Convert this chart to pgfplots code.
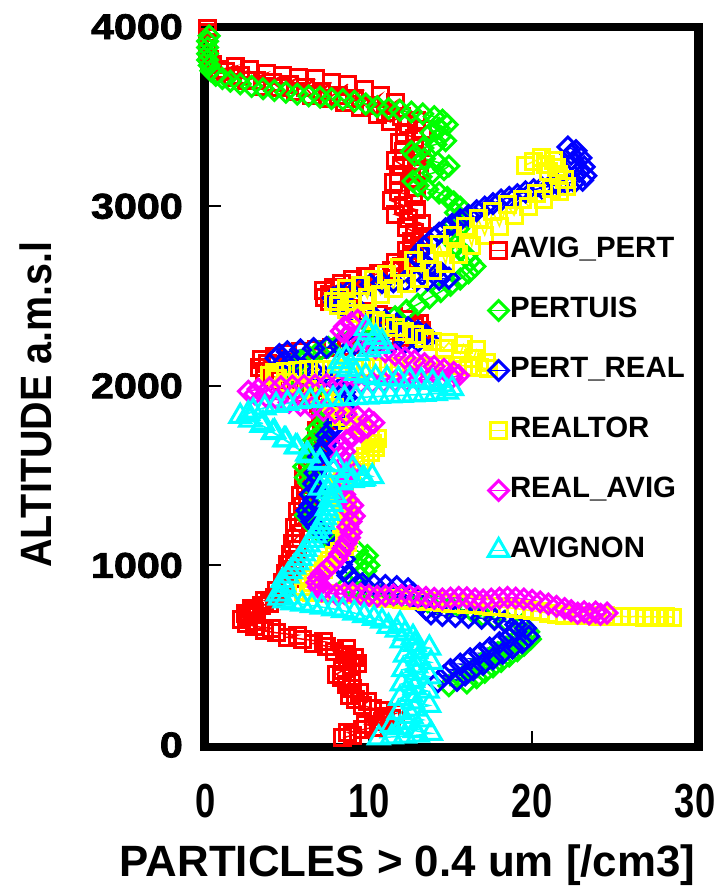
\documentclass[border=0pt]{standalone}
\usepackage{fontspec}
\setmainfont{Liberation Sans}
\newfontface\tickheavy{Liberation Sans Bold}[FakeBold=2]
\usepackage{graphicx}
\usepackage{pgfplots}
\pgfplotsset{compat=1.18}

\definecolor{cAP}{RGB}{255,0,0}
\definecolor{cPE}{RGB}{0,255,0}
\definecolor{cPR}{RGB}{0,0,255}
\definecolor{cRT}{RGB}{255,255,0}
\definecolor{cRA}{RGB}{255,0,255}
\definecolor{cAV}{RGB}{0,255,255}

\pgfplotsset{
  sqr/.style={color=#1, line width=1.5bp, mark=square, mark size=8bp,
    mark options={solid, line width=3bp, fill=none}},
  dia/.style={color=#1, line width=1.5bp, mark=square, mark size=7bp,
    mark options={solid, rotate=45, line width=3bp, fill=none}},
  tri/.style={color=#1, line width=1.5bp, mark=triangle, mark size=12bp,
    mark options={solid, line width=3bp, fill=none}},
}
\newcommand{\ytl}[1]{\scalebox{1.15}[1]{\tickheavy #1}}
\newcommand{\xtl}[1]{\scalebox{0.76}[1]{#1}}

\begin{document}
\begin{tikzpicture}[x=1bp,y=1bp]
\useasboundingbox (0,0) rectangle (725,894);
\begin{axis}[
  at={(204.5bp,147.2bp)}, anchor=south west,
  scale only axis, width=494bp, height=720bp,
  xmin=-0.09, xmax=30.21, ymin=-10, ymax=4000,
  clip=false,
  axis line style={line width=8.5bp, black},
  tick align=inside, xtick pos=left, ytick pos=left,
  major tick length=16bp,
  every tick/.style={black, line width=2bp},
  xtick={0,10,20,30},
  xticklabels={\xtl{0},\xtl{10},\xtl{20},\xtl{30}},
  ytick={0,1000,2000,3000,4000},
  yticklabels={\ytl{0},\ytl{1000},\ytl{2000},\ytl{3000},\ytl{4000}},
  xticklabel style={font=\fontsize{48}{48}\selectfont\bfseries, inner sep=0pt, anchor=north, yshift=-37bp},
  yticklabel style={font=\fontsize{36}{36}\selectfont, inner sep=0pt, anchor=east, xshift=-21.5bp},
  xlabel={PARTICLES > 0.4 um [/cm3]},
  xlabel style={font=\fontsize{44}{44}\selectfont\bfseries, at={(axis description cs:0.411,-0.164)}, anchor=center, inner sep=0pt},
  ylabel={\scalebox{0.9}[1]{ALTITUDE a.m.s.l}},
  ylabel style={font=\fontsize{44}{44}\selectfont\bfseries, at={(axis description cs:-0.341,0.475)}, anchor=center, inner sep=0pt},
  legend style={draw=none, fill=none, at={(axis cs:17.3,2836)}, anchor=north west,
    font=\fontsize{29.5}{29.5}\selectfont\bfseries, row sep=31bp, inner sep=0pt,
    nodes={inner sep=1bp, text height=21bp, text depth=6bp}},
  legend cell align=left,
  legend image code/.code={\draw[mark repeat=2, mark phase=2, #1] plot coordinates {(-8bp,0bp) (0bp,0bp) (8bp,0bp)};},
]

% AVIG_PERT
\addplot[sqr=cAP] table {
x y
8.4 40
9.0 55
8.7 70
9.6 85
10.3 100
9.8 115
10.8 130
11.4 145
11.0 160
11.6 175
10.9 190
10.2 205
9.6 220
9.9 240
9.2 255
8.8 275
9.4 295
9.0 315
8.6 335
8.9 355
8.3 375
8.0 395
8.4 415
8.9 435
9.3 455
8.7 470
9.1 490
8.5 505
7.9 520
8.6 535
7.4 550
6.6 565
7.2 575
5.9 590
5.0 600
5.6 612
4.3 625
3.6 635
4.0 650
3.0 660
2.5 675
3.1 688
2.2 700
2.6 715
2.4 730
3.0 745
2.8 760
3.4 775
3.9 790
3.6 805
4.2 820
4.6 840
4.3 860
4.9 880
4.7 905
5.1 930
4.9 955
5.3 980
5.0 1005
5.4 1030
5.2 1060
5.6 1090
5.3 1120
5.5 1150
5.8 1180
5.4 1210
5.7 1240
6.0 1270
5.6 1300
5.9 1330
6.2 1360
5.8 1390
6.1 1420
6.4 1450
6.0 1480
6.3 1510
6.7 1540
6.2 1570
6.5 1600
6.9 1630
6.6 1660
6.9 1690
7.2 1720
6.8 1750
7.1 1780
7.4 1810
7.0 1840
7.3 1870
6.9 1900
6.4 1930
6.0 1955
5.5 1980
5.0 2005
4.6 2030
4.1 2055
3.6 2080
3.3 2105
3.8 2125
3.4 2145
4.2 2165
5.0 2180
5.8 2192
6.8 2202
7.7 2212
8.6 2222
9.5 2232
10.4 2245
11.2 2258
12.0 2272
12.7 2290
13.2 2310
12.8 2330
13.1 2350
12.3 2370
11.5 2385
10.6 2400
9.7 2415
8.9 2430
8.1 2448
7.6 2468
7.3 2490
7.6 2510
7.2 2530
7.8 2550
8.3 2570
9.0 2590
9.8 2608
10.6 2625
11.4 2645
12.0 2665
11.6 2685
12.4 2705
12.8 2730
12.3 2755
13.1 2780
12.6 2805
13.3 2830
12.8 2855
12.3 2880
13.2 2905
12.4 2930
11.6 2955
12.9 2980
12.1 3005
11.4 3030
12.7 3055
11.8 3080
12.9 3105
11.5 3130
12.6 3155
11.8 3180
13.1 3205
12.0 3230
11.6 3255
12.9 3280
12.1 3305
13.2 3330
11.9 3355
12.8 3380
12.2 3405
13.3 3430
12.4 3455
12.9 3480
12.0 3500
11.3 3470
11.0 3520
11.6 3580
10.5 3510
10.1 3560
10.7 3620
9.5 3550
9.1 3600
9.7 3650
8.5 3580
8.1 3620
8.7 3680
7.5 3600
7.1 3640
7.7 3690
6.5 3620
6.1 3660
6.7 3710
5.5 3640
5.1 3680
5.7 3720
4.5 3660
4.1 3690
4.7 3730
3.5 3670
3.1 3700
3.7 3740
2.5 3700
2.1 3730
2.7 3760
1.6 3720
1.2 3750
1.8 3780
0.8 3760
0.4 3790
0.2 3820
0.1 3850
0.1 3880
0.1 3910
0.1 3940
0.1 3970
0.1 3990
};
\addlegendentry{AVIG\_PERT}

% PERTUIS
\addplot[dia=cPE] table {
x y
14.9 330
16.0 345
15.4 365
16.6 375
15.9 395
17.1 405
16.4 425
17.6 435
16.9 455
18.1 465
17.4 485
18.6 495
17.9 515
19.1 525
18.4 545
19.5 555
18.9 575
19.9 590
19.3 610
19.8 630
19.2 650
19.4 670
18.4 690
17.7 705
17.0 720
16.4 738
15.7 755
15.0 770
14.3 785
13.6 797
12.9 808
12.2 818
11.5 826
10.8 834
10.1 842
9.5 852
9.0 870
8.7 895
9.0 920
9.4 945
9.8 970
10.0 1000
9.7 1030
9.9 1055
9.3 1080
8.6 1105
7.9 1130
7.3 1160
6.9 1190
6.6 1220
6.4 1250
6.1 1280
6.3 1310
6.5 1340
6.8 1370
6.5 1400
6.7 1430
6.3 1460
6.1 1490
6.4 1520
6.0 1550
6.3 1580
6.6 1610
6.4 1640
6.8 1670
6.6 1700
7.0 1730
6.8 1760
7.2 1790
7.5 1820
7.2 1850
7.4 1880
7.0 1910
6.7 1940
6.3 1970
6.0 2000
5.7 2030
5.4 2060
5.6 2090
5.3 2115
5.8 2140
6.3 2165
6.9 2190
7.5 2215
8.2 2240
8.9 2265
9.6 2290
10.2 2320
10.9 2350
11.6 2385
12.3 2420
13.0 2455
13.7 2490
14.4 2525
15.0 2560
15.6 2595
16.1 2630
16.5 2665
16.2 2695
16.0 2725
15.6 2755
15.3 2785
15.0 2815
15.2 2845
15.5 2875
15.2 2905
15.6 2935
15.3 2965
15.6 2995
15.2 3025
14.8 3050
14.3 3075
13.6 3095
13.0 3115
12.7 3140
13.2 3165
13.9 3185
14.6 3205
14.9 3225
14.2 3245
13.4 3265
12.8 3285
12.6 3305
13.3 3325
14.1 3345
14.7 3365
14.4 3390
13.8 3410
14.3 3435
14.8 3455
14.5 3480
14.0 3500
13.3 3515
12.6 3525
11.9 3535
11.2 3545
10.5 3555
9.8 3570
9.1 3585
8.4 3595
7.7 3600
7.0 3608
6.3 3615
5.6 3625
4.9 3635
4.2 3645
3.5 3655
2.8 3668
2.1 3682
1.5 3697
1.0 3712
0.6 3730
0.3 3755
0.2 3785
0.1 3815
0.1 3850
0.1 3885
0.1 3920
0.2 3950
};
\addlegendentry{PERTUIS}

% PERT_REAL
\addplot[dia=cPR] table {
x y
14.2 350
15.4 360
14.6 385
15.9 390
15.0 420
16.4 420
15.6 450
17.0 450
16.2 480
17.6 480
16.8 510
18.2 510
17.4 540
18.8 540
18.0 570
19.4 570
18.6 600
19.8 605
19.0 630
19.6 650
19.0 670
18.3 688
17.7 700
16.9 706
16.1 711
15.3 716
14.5 722
13.8 730
13.5 755
13.2 785
12.9 815
12.7 845
12.4 870
11.7 882
11.0 888
10.3 893
9.6 898
9.1 915
8.7 945
8.5 975
8.3 1005
8.5 1035
8.2 1065
8.5 1095
8.2 1125
7.7 1155
7.2 1185
6.8 1215
6.5 1245
6.3 1275
6.2 1305
6.4 1335
6.6 1365
6.4 1395
6.8 1425
6.6 1455
6.9 1485
6.7 1515
7.0 1545
7.1 1575
6.9 1605
7.2 1635
7.3 1665
7.5 1695
7.4 1725
7.7 1755
7.9 1785
8.1 1815
8.3 1845
8.5 1875
8.4 1905
8.6 1935
8.5 1965
8.3 1995
7.9 2025
7.3 2050
6.7 2075
6.0 2095
5.4 2115
4.8 2135
4.3 2155
4.5 2175
5.0 2190
5.8 2200
6.6 2208
7.4 2214
8.2 2220
9.0 2225
9.8 2230
10.6 2234
11.4 2238
12.2 2242
13.0 2248
13.6 2262
13.5 2285
13.0 2305
12.4 2325
11.7 2345
11.0 2365
10.3 2385
9.6 2405
8.9 2425
8.3 2445
7.9 2465
7.8 2490
8.2 2510
8.8 2530
9.4 2550
10.1 2565
10.8 2575
11.5 2580
12.2 2584
12.9 2587
13.6 2590
14.3 2594
14.9 2600
14.5 2625
14.0 2650
13.5 2675
13.1 2700
12.9 2725
13.2 2750
13.4 2775
13.7 2800
14.0 2825
14.3 2850
14.7 2875
15.1 2900
15.6 2925
16.1 2950
16.6 2975
17.1 2995
17.6 3015
18.1 3035
18.6 3050
19.1 3065
19.6 3080
20.1 3092
20.6 3103
21.1 3112
21.6 3120
22.1 3128
22.6 3135
23.1 3145
23.3 3170
22.9 3195
23.2 3220
22.6 3245
23.0 3270
22.4 3290
22.7 3310
22.2 3330
};
\addlegendentry{PERT\_REAL}

% REALTOR
\addplot[sqr=cRT] table {
x y
28.6 712
28.2 716
27.8 711
27.3 716
26.9 712
26.4 717
26.0 713
25.5 717
25.0 714
24.5 719
24.0 716
23.5 721
23.0 719
22.5 725
22.0 722
21.5 729
21.0 735
20.5 742
20.0 748
19.5 754
19.0 760
18.5 765
18.0 769
17.5 772
17.0 776
16.5 780
16.0 784
15.5 787
15.0 790
14.5 793
14.0 797
13.5 800
13.0 803
12.5 806
12.0 810
11.5 814
11.0 818
10.5 823
10.0 828
9.5 832
9.0 836
8.5 840
8.0 843
7.5 846
7.0 849
6.5 852
6.0 856
6.0 880
6.3 905
6.6 930
6.9 955
7.2 980
7.4 1005
7.6 1030
7.9 1055
8.2 1080
8.5 1105
8.7 1130
8.5 1155
8.8 1180
8.6 1205
8.3 1230
8.6 1255
8.8 1280
8.5 1305
8.7 1330
8.4 1355
8.2 1380
8.5 1405
8.3 1430
8.1 1455
8.4 1480
8.6 1505
8.9 1530
9.2 1555
9.5 1580
9.8 1605
10.1 1630
10.4 1655
10.2 1680
10.5 1705
10.1 1730
9.6 1755
9.1 1780
8.7 1805
8.3 1830
8.1 1855
7.9 1880
7.7 1905
7.3 1930
6.8 1955
6.2 1978
5.6 2000
5.0 2020
4.4 2040
3.9 2058
4.2 2075
4.9 2082
5.6 2086
6.3 2089
7.0 2092
7.7 2094
8.4 2096
9.1 2098
9.8 2100
10.5 2102
11.2 2104
11.9 2106
12.6 2108
13.3 2110
14.0 2112
14.7 2114
15.4 2115
16.1 2110
16.8 2102
17.3 2095
17.2 2130
16.6 2200
16.4 2150
15.8 2230
15.6 2180
14.9 2240
14.6 2210
13.9 2250
13.4 2265
12.8 2285
12.2 2305
11.6 2325
11.0 2345
10.4 2365
9.8 2385
9.2 2405
8.6 2425
8.1 2445
7.8 2470
8.2 2492
8.6 2540
9.0 2470
9.5 2560
9.9 2490
10.3 2590
10.7 2510
11.1 2620
11.5 2540
11.9 2660
12.3 2570
12.7 2700
13.1 2600
13.5 2740
13.9 2640
14.3 2790
14.7 2680
15.1 2840
15.5 2730
15.9 2890
16.3 2780
16.7 2930
17.1 2840
17.6 2970
18.0 2890
18.5 3010
18.9 2950
19.4 3040
19.8 3000
20.3 3070
20.7 3040
21.2 3100
21.7 3080
22.1 3110
22.0 3150
21.6 3175
21.0 3195
21.5 3215
20.8 3235
21.3 3255
20.6 3270
20.1 3250
19.6 3230
};
\addlegendentry{REALTOR}

% REAL_AVIG
\addplot[dia=cRA] table {
x y
24.6 735
24.2 728
23.9 740
23.5 730
23.2 742
22.8 734
22.4 748
22.0 760
21.5 772
21.0 785
20.5 797
20.0 806
19.5 813
19.0 818
18.5 822
18.0 818
17.5 812
17.0 808
16.5 814
16.0 820
15.5 822
15.0 818
14.5 813
14.0 817
13.5 822
13.0 826
12.5 830
12.0 834
11.5 836
11.0 831
10.5 828
10.0 834
9.5 840
9.0 846
8.5 843
8.0 840
7.5 846
7.1 858
6.9 880
6.8 905
6.9 930
7.1 955
7.4 980
7.7 1005
8.0 1035
8.2 1065
8.4 1095
8.6 1125
8.8 1155
8.9 1185
8.7 1215
8.9 1245
9.1 1275
8.8 1305
9.0 1335
8.7 1365
8.5 1395
8.3 1425
8.6 1455
8.4 1485
8.7 1515
8.9 1545
8.6 1575
8.3 1605
8.5 1635
8.2 1665
8.6 1695
9.0 1720
9.5 1745
9.9 1770
10.3 1795
10.0 1815
9.3 1830
8.6 1842
7.9 1852
7.2 1865
6.5 1878
5.8 1893
5.1 1908
4.4 1923
3.7 1940
3.0 1955
2.6 1970
3.2 1982
3.9 1990
4.6 1995
5.3 1999
6.0 2002
6.7 2005
7.4 2008
8.1 2011
8.8 2014
9.5 2017
10.2 2020
10.9 2023
11.6 2026
12.3 2029
13.0 2032
13.7 2036
14.4 2040
15.1 2046
15.5 2058
15.2 2075
14.6 2092
14.0 2108
13.4 2124
12.8 2140
12.2 2156
11.6 2172
11.0 2190
10.4 2210
9.8 2232
9.2 2255
8.7 2280
8.3 2305
8.5 2330
8.9 2350
9.3 2365
};
\addlegendentry{REAL\_AVIG}

% AVIGNON
\addplot[tri=cAV] table {
x y
10.6 40
11.4 45
12.2 50
13.0 55
13.8 65
12.8 80
11.9 95
11.4 110
12.3 125
13.3 140
12.6 160
11.8 180
12.8 200
13.7 220
12.7 240
11.9 260
12.6 280
13.6 300
12.8 320
12.0 340
12.7 360
13.7 380
12.9 400
12.1 420
12.9 440
13.8 460
13.0 480
12.2 500
12.9 520
13.7 540
12.8 560
12.0 580
12.7 600
12.2 620
11.7 640
11.2 660
11.9 675
10.8 690
10.3 705
9.7 720
9.1 735
8.4 748
7.8 758
7.1 768
6.5 776
5.9 784
5.3 792
4.8 802
4.5 818
4.4 840
4.6 865
4.8 890
4.7 915
5.0 940
5.2 965
5.4 990
5.6 1015
5.8 1040
6.0 1065
6.1 1090
6.3 1115
6.5 1140
6.7 1165
6.8 1190
7.0 1215
7.2 1240
7.3 1265
7.5 1290
7.4 1315
7.7 1340
7.6 1365
7.9 1390
7.5 1410
7.0 1430
7.6 1445
8.3 1460
9.0 1472
9.7 1483
10.2 1495
9.0 1540
9.6 1480
8.0 1560
8.6 1500
7.0 1580
7.8 1530
6.2 1620
7.0 1570
5.5 1660
6.3 1610
4.8 1700
5.6 1660
4.1 1740
4.9 1700
3.4 1780
4.2 1745
2.7 1810
3.5 1790
2.1 1830
2.6 1845
2.9 1860
3.6 1878
4.3 1892
5.0 1903
5.7 1912
6.4 1918
7.1 1923
7.8 1927
8.5 1931
9.2 1935
9.9 1938
10.6 1941
11.3 1944
12.0 1947
12.7 1950
13.4 1953
14.1 1957
14.8 1965
15.1 1985
14.5 2005
13.9 2020
13.2 2028
12.5 2033
11.8 2037
11.1 2041
10.4 2046
9.8 2055
9.2 2070
8.7 2090
8.3 2110
8.2 2135
8.6 2160
9.3 2180
10.0 2200
10.6 2220
10.8 2245
10.4 2270
10.0 2295
9.8 2320
};
\addlegendentry{AVIGNON}

\end{axis}
\end{tikzpicture}
\end{document}
